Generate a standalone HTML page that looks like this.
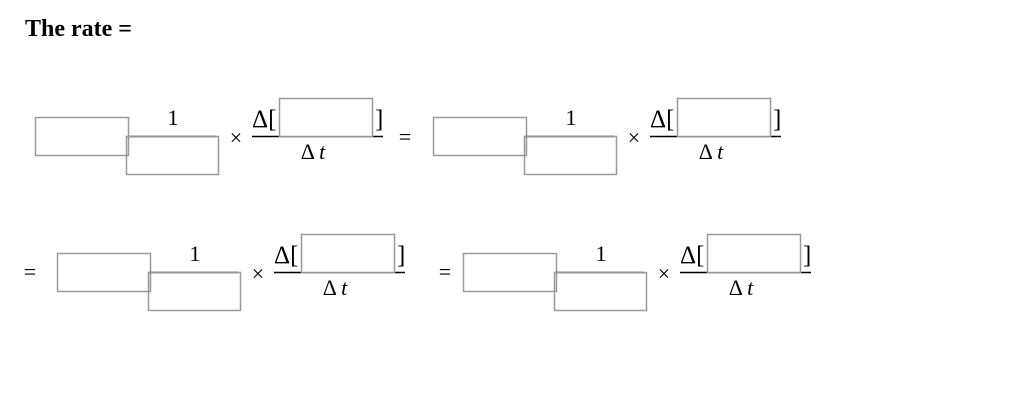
<!DOCTYPE html>
<html><head><meta charset="utf-8"><style>
html,body{margin:0;padding:0;background:#fff;}
svg{display:block;}
text{font-family:"Liberation Serif",serif;fill:#000;}
</style></head><body>
<svg width="1024" height="417" viewBox="0 0 1024 417">
<text x="25" y="36" font-size="24" font-weight="bold">The rate =</text>
<defs>
<g id="grp">
  <rect x="0.5" y="0.5" width="93" height="38" fill="#fff" stroke="#999" stroke-width="1.5"/>
  <line x1="93" y1="19.5" x2="181" y2="19.5" stroke="#000" stroke-width="1.5"/>
  <rect x="91.5" y="19.5" width="92" height="38" fill="none" stroke="#999" stroke-width="1.5"/>
  <text x="138" y="8" font-size="22" text-anchor="middle">1</text>
  <text x="201" y="28" font-size="22" text-anchor="middle">×</text>
  <line x1="217" y1="19.5" x2="348" y2="19.5" stroke="#000" stroke-width="1.5"/>
  <text x="217" y="10" font-size="25">Δ[</text>
  <rect x="244.5" y="-18.5" width="93" height="38" fill="#fff" stroke="#999" stroke-width="1.5"/>
  <text x="340" y="10" font-size="25">]</text>
  <text x="278" y="42" font-size="22" text-anchor="middle">Δ <tspan font-style="italic">t</tspan></text>
</g>
</defs>
<use href="#grp" x="35" y="117"/>
<text x="405" y="144" font-size="22" text-anchor="middle">=</text>
<use href="#grp" x="433" y="117"/>
<text x="30" y="279" font-size="22" text-anchor="middle">=</text>
<use href="#grp" x="57" y="253"/>
<text x="445" y="279" font-size="22" text-anchor="middle">=</text>
<use href="#grp" x="463" y="253"/>
</svg>
</body></html>
